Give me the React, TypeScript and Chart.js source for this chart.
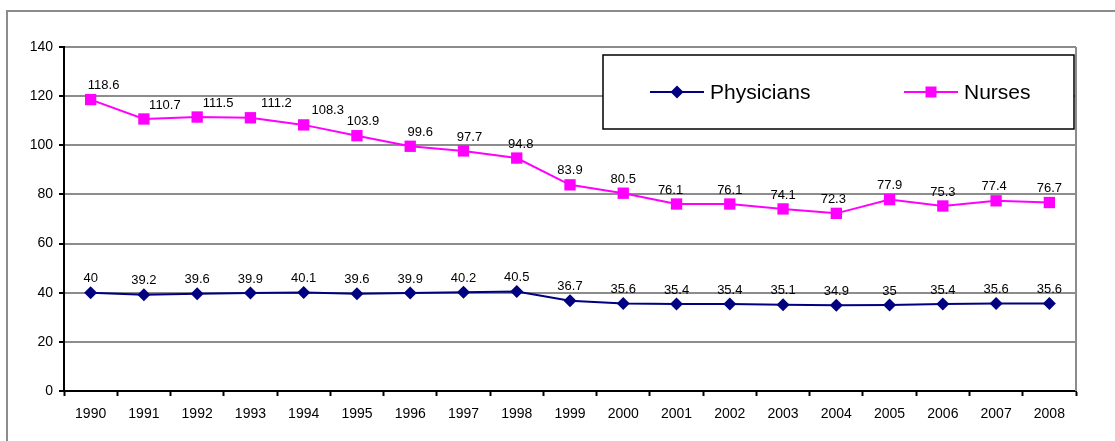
import React, { useEffect, useRef } from "react";
import { Chart, registerables } from "chart.js";

Chart.register(...registerables);

const years = [
  "1990", "1991", "1992", "1993", "1994", "1995", "1996", "1997", "1998", "1999",
  "2000", "2001", "2002", "2003", "2004", "2005", "2006", "2007", "2008",
];
const physicians = [
  40, 39.2, 39.6, 39.9, 40.1, 39.6, 39.9, 40.2, 40.5, 36.7,
  35.6, 35.4, 35.4, 35.1, 34.9, 35, 35.4, 35.6, 35.6,
];
const nurses = [
  118.6, 110.7, 111.5, 111.2, 108.3, 103.9, 99.6, 97.7, 94.8, 83.9,
  80.5, 76.1, 76.1, 74.1, 72.3, 77.9, 75.3, 77.4, 76.7,
];
const yMin = 0;
const yMax = 140;
const yStep = 20;

// label nudges (style only)
const nurseLabelDx = [13, 21, 21, 26, 24, 6, 10, 6, 4, 0, 0, -6, 0, 0, -3, 0, 0, -2, 0];

const FONT = "'Liberation Sans', Arial, sans-serif";

const framePlugin = {
  id: "frame",
  beforeDraw(chart: any) {
    const { ctx } = chart;
    ctx.save();
    ctx.fillStyle = "#ffffff";
    ctx.fillRect(0, 0, chart.width, chart.height);
    ctx.strokeStyle = "#8c8c8c";
    ctx.lineWidth = 2;
    ctx.beginPath();
    ctx.moveTo(7, chart.height);
    ctx.lineTo(7, 11);
    ctx.lineTo(chart.width, 11);
    ctx.stroke();
    ctx.restore();
  },
  beforeDatasetsDraw(chart: any) {
    const { ctx, chartArea } = chart;
    ctx.save();
    ctx.strokeStyle = "#8c8c8c";
    ctx.lineWidth = 2;
    ctx.beginPath();
    ctx.moveTo(chartArea.right, chartArea.top);
    ctx.lineTo(chartArea.right, chartArea.bottom);
    ctx.stroke();
    ctx.restore();
  },
};

const labelPlugin = {
  id: "valueLabels",
  afterDatasetsDraw(chart: any) {
    const { ctx } = chart;
    ctx.save();
    ctx.font = `13px ${FONT}`;
    ctx.fillStyle = "#000";
    ctx.textAlign = "center";
    ctx.textBaseline = "middle";
    chart.data.datasets.forEach((ds: any, di: number) => {
      const meta = chart.getDatasetMeta(di);
      meta.data.forEach((pt: any, i: number) => {
        const v = ds.data[i];
        const dx = ds.label === "Nurses" ? nurseLabelDx[i] || 0 : 0;
        const dy = ds.label === "Nurses" ? -14 : -14;
        ctx.fillText(String(v), pt.x + dx, pt.y + dy);
      });
    });
    ctx.restore();
  },
};

const legendPlugin = {
  id: "boxLegend",
  afterDraw(chart: any) {
    const { ctx } = chart;
    const bx = 603, by = 55, bw = 471, bh = 74;
    ctx.save();
    ctx.fillStyle = "#fff";
    ctx.fillRect(bx, by, bw, bh);
    ctx.strokeStyle = "#000";
    ctx.lineWidth = 1.5;
    ctx.strokeRect(bx, by, bw, bh);
    const cy = 92;
    const starts = [650, 904];
    chart.data.datasets.forEach((ds: any, di: number) => {
      const x0 = starts[di];
      ctx.strokeStyle = ds.borderColor;
      ctx.lineWidth = 2;
      ctx.beginPath();
      ctx.moveTo(x0, cy);
      ctx.lineTo(x0 + 54, cy);
      ctx.stroke();
      ctx.fillStyle = ds.backgroundColor;
      const cx = x0 + 27;
      ctx.beginPath();
      if (ds.pointStyle === "rectRot") {
        const r = 6.5;
        ctx.moveTo(cx - r, cy);
        ctx.lineTo(cx, cy - r);
        ctx.lineTo(cx + r, cy);
        ctx.lineTo(cx, cy + r);
        ctx.closePath();
      } else {
        const s = 5.5;
        ctx.rect(cx - s, cy - s, 2 * s, 2 * s);
      }
      ctx.fill();
      ctx.fillStyle = "#000";
      ctx.font = `21px ${FONT}`;
      ctx.textAlign = "left";
      ctx.textBaseline = "middle";
      ctx.fillText(ds.label, x0 + 60, cy + 1);
    });
    ctx.restore();
  },
};

export default function App() {
  const ref = useRef<HTMLCanvasElement | null>(null);

  useEffect(() => {
    if (!ref.current) return;
    const chart = new Chart(ref.current, {
      type: "line",
      data: {
        labels: years,
        datasets: [
          {
            label: "Physicians",
            data: physicians,
            borderColor: "#000080",
            backgroundColor: "#000080",
            borderWidth: 2,
            pointStyle: "rectRot",
            pointRadius: 6.5,
            pointBorderWidth: 0,
            tension: 0,
          },
          {
            label: "Nurses",
            data: nurses,
            borderColor: "#ff00ff",
            backgroundColor: "#ff00ff",
            borderWidth: 2,
            pointStyle: "rect",
            pointRadius: 8,
            pointBorderWidth: 0,
            tension: 0,
          },
        ],
      },
      options: {
        responsive: false,
        animation: false,
        devicePixelRatio: 1,
        layout: { padding: { left: 20, top: 47, right: 39, bottom: 0 } },
        plugins: {
          legend: { display: false },
          tooltip: { enabled: false },
          title: { display: false },
        },
        scales: {
          x: {
            type: "category",
            offset: true,
            afterFit: (s: any) => {
              s.height = 50;
            },
            grid: {
              offset: true,
              drawOnChartArea: false,
              drawTicks: true,
              tickLength: 5,
              tickColor: "#000",
              tickWidth: 2,
            },
            border: { display: true, color: "#000", width: 2 },
            ticks: {
              color: "#000",
              font: { family: FONT, size: 14 },
              padding: 10,
              maxRotation: 0,
              autoSkip: false,
            },
          },
          y: {
            min: yMin,
            max: yMax,
            afterFit: (s: any) => {
              s.width = 44;
            },
            grid: {
              color: (c: any) => (c.tick && c.tick.value === 0 ? "rgba(0,0,0,0)" : "#8c8c8c"),
              lineWidth: 2,
              tickLength: 5,
              tickColor: "#000",
              tickWidth: 2,
            },
            border: { display: true, color: "#000", width: 2 },
            ticks: {
              stepSize: yStep,
              color: "#000",
              font: { family: FONT, size: 14 },
              padding: 6,
            },
          },
        },
      },
      plugins: [framePlugin, labelPlugin, legendPlugin],
    });
    return () => chart.destroy();
  }, []);

  return (
    <div style={{ position: "absolute", left: 0, top: 0, width: 1115, height: 441, background: "#fff" }}>
      <canvas ref={ref} width={1115} height={441} style={{ display: "block" }} />
    </div>
  );
}
